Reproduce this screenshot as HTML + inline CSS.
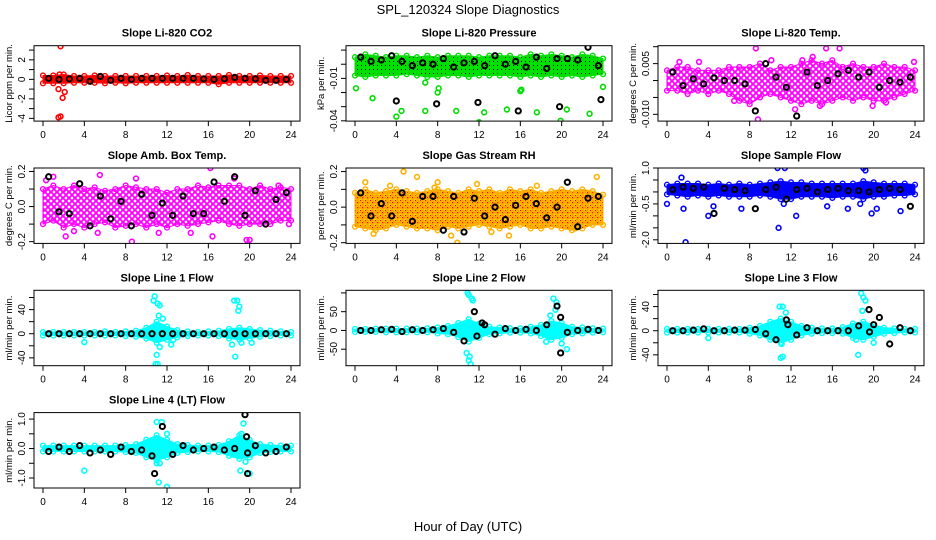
<!DOCTYPE html>
<html><head><meta charset="utf-8"><style>
html,body{margin:0;padding:0;background:#fff;}
svg{display:block;font-family:"Liberation Sans",sans-serif;}
</style></head><body>
<svg id="chart" width="936" height="540" viewBox="0 0 936 540">
<defs>
<pattern id="pat-red" width="4" height="4" patternUnits="userSpaceOnUse"><rect width="4" height="4" fill="#ff0000"/></pattern>
<pattern id="pat-green" width="4" height="4" patternUnits="userSpaceOnUse"><rect width="4" height="4" fill="#00e000"/><rect x="1" y="1" width="1" height="1" fill="#000"/></pattern>
<pattern id="pat-mag" width="6" height="6" patternUnits="userSpaceOnUse"><rect width="6" height="6" fill="#fff"/><circle cx="3" cy="3" r="2.2" fill="none" stroke="#ff00ff" stroke-width="1.5"/><circle cx="0" cy="0" r="2.2" fill="none" stroke="#ff00ff" stroke-width="1.5"/><circle cx="6" cy="0" r="2.2" fill="none" stroke="#ff00ff" stroke-width="1.5"/><circle cx="0" cy="6" r="2.2" fill="none" stroke="#ff00ff" stroke-width="1.5"/><circle cx="6" cy="6" r="2.2" fill="none" stroke="#ff00ff" stroke-width="1.5"/></pattern>
<pattern id="pat-orange" width="5" height="5" patternUnits="userSpaceOnUse"><rect width="5" height="5" fill="#ffd000"/><circle cx="2.5" cy="2.5" r="1.8" fill="none" stroke="#ff9000" stroke-width="1"/><rect x="2" y="2" width="1.2" height="1.2" fill="#ff0000"/><rect x="0" y="0" width="1" height="1" fill="#ff0000"/></pattern>
<pattern id="pat-blue" width="4" height="4" patternUnits="userSpaceOnUse"><rect width="4" height="4" fill="#0000ff"/></pattern>
<pattern id="pat-cyan" width="4" height="4" patternUnits="userSpaceOnUse"><rect width="4" height="4" fill="#00ffff"/></pattern>
</defs>
<text x="468" y="14" text-anchor="middle" font-size="13">SPL_120324  Slope Diagnostics</text>
<text x="468" y="531" text-anchor="middle" font-size="13">Hour of Day (UTC)</text>
</svg>
<script>
// ---- data ----
const hours = [0,1,2,3,4,5,6,7,8,9,10,11,12,13,14,15,16,17,18,19,20,21,22,23,24];
const xTicks = [0,4,8,12,16,20,24];

const co2Lo = [-0.4,-0.4,-0.4,-0.35,-0.35,-0.35,-0.4,-0.35,-0.4,-0.35,-0.35,-0.35,-0.35,-0.35,-0.35,-0.35,-0.35,-0.5,-0.35,-0.35,-0.35,-0.35,-0.35,-0.35,-0.35];
const co2Hi = [0.4,0.4,0.5,0.35,0.35,0.4,0.35,0.35,0.35,0.35,0.35,0.35,0.4,0.35,0.45,0.35,0.35,0.35,0.45,0.35,0.35,0.4,0.35,0.35,0.35];
const co2OutX = [1.7,1.6,1.5,1.9,2.1,1.5,1.7];
const co2OutY = [3.4,0.5,-1.0,-1.9,-1.3,-3.9,-3.8];
const co2Blk = [0.1,0,0.05,0.1,-0.2,0.3,-0.1,0.1,0,0.1,0.1,0.1,0.1,0.1,0.1,0.05,0,0.05,0.2,0.1,0.05,-0.1,-0.1,0];

const prsLo = [-0.008,-0.009,-0.008,-0.008,-0.008,-0.007,-0.008,-0.009,-0.009,-0.008,-0.008,-0.009,-0.008,-0.008,-0.008,-0.008,-0.009,-0.008,-0.009,-0.008,-0.009,-0.008,-0.009,-0.008,-0.007];
const prsHi = [0.005,0.007,0.006,0.005,0.006,0.006,0.005,0.006,0.005,0.006,0.006,0.006,0.005,0.006,0.006,0.006,0.005,0.007,0.006,0.007,0.006,0.005,0.007,0.006,0.004];
const prsOutX = [0.1,1.7,4.0,4.5,6.8,6.8,8.0,8.1,9.8,12.0,12.5,14.7,16.0,16.1,17.6,19.9,20.5,22.7,24.0];
const prsOutY = [-0.017,-0.024,-0.037,-0.033,-0.013,-0.033,-0.02,-0.017,-0.033,-0.041,-0.034,-0.032,-0.019,-0.018,-0.034,-0.04,-0.032,-0.035,-0.016];
const prsBlk = [0.005,0.002,0.003,0.006,0.002,-0.001,0.001,0,0.004,-0.002,0.001,0.002,-0.001,0.006,0,0.002,-0.002,0.005,-0.003,0.004,0.004,0.003,0.012,-0.001];
const prsBlkOX = [4.0,7.9,11.9,15.8,19.8,23.8];
const prsBlkOY = [-0.026,-0.028,-0.027,-0.033,-0.030,-0.025];

const tmpLo = [-0.003,-0.003,-0.004,-0.003,-0.004,-0.003,-0.004,-0.006,-0.007,-0.005,-0.004,-0.005,-0.006,-0.007,-0.006,-0.007,-0.006,-0.005,-0.006,-0.005,-0.006,-0.006,-0.005,-0.004,-0.003];
const tmpHi = [0.003,0.004,0.004,0.003,0.003,0.003,0.004,0.004,0.004,0.005,0.003,0.004,0.004,0.005,0.006,0.005,0.006,0.004,0.005,0.004,0.004,0.005,0.004,0.004,0.003];
const tmpOutX = [1.2,3.1,6.5,8.6,8.8,10.1,12.4,13.1,14.1,14.8,15.4,16.7,19.9,21.2,23.9];
const tmpOutY = [0.0055,0.0055,-0.006,0.0095,-0.0115,0.006,-0.0085,0.006,0.007,-0.0075,0.0095,0.0095,-0.0075,-0.0065,0.0055];
const tmpBlk = [0.0025,-0.0015,0.0005,-0.001,0.0008,0,0,-0.001,-0.009,0.005,0.001,-0.002,-0.0105,0.0025,-0.0015,0,0.002,0.003,0.001,0.0025,-0.002,0,-0.0005,0.001];

const ambLo = [-0.1,-0.08,-0.12,-0.1,-0.12,-0.1,-0.09,-0.12,-0.11,-0.1,-0.12,-0.1,-0.12,-0.1,-0.11,-0.1,-0.09,-0.08,-0.1,-0.11,-0.1,-0.1,-0.1,-0.08,-0.08];
const ambHi = [0.1,0.12,0.1,0.12,0.1,0.11,0.09,0.1,0.12,0.11,0.1,0.1,0.08,0.1,0.1,0.12,0.11,0.12,0.12,0.12,0.1,0.12,0.1,0.11,0.1];
const ambOutX = [0.3,1.0,2.2,3.0,5.3,5.5,8.6,9.0,11.2,14.3,16.2,16.4,18.5,19.7,20.0,22.8,23.8];
const ambOutY = [0.15,0.17,-0.17,-0.14,-0.15,0.18,-0.2,0.16,-0.15,-0.15,0.22,-0.17,0.16,-0.19,-0.19,0.12,-0.1];
const ambBlk = [0.17,-0.03,-0.04,0.13,-0.11,0.06,-0.07,0.03,-0.11,0.07,-0.05,0.02,-0.05,0.06,-0.04,-0.04,0.14,0.03,0.17,-0.05,0.09,-0.1,0.04,0.08];

const rhLo = [-0.11,-0.12,-0.13,-0.12,-0.1,-0.11,-0.12,-0.12,-0.13,-0.11,-0.12,-0.11,-0.1,-0.11,-0.12,-0.11,-0.1,-0.12,-0.12,-0.11,-0.12,-0.13,-0.12,-0.1,-0.1];
const rhHi = [0.08,0.1,0.08,0.09,0.1,0.09,0.08,0.09,0.1,0.09,0.08,0.1,0.09,0.1,0.08,0.1,0.09,0.1,0.08,0.09,0.1,0.09,0.1,0.09,0.07];
const rhOutX = [1.0,1.8,3.4,4.7,6.0,7.7,8.0,9.3,9.9,11.8,13.2,14.9,17.6,21.3,23.4];
const rhOutY = [0.14,-0.15,0.12,0.2,0.17,0.11,0.14,-0.16,-0.2,0.13,-0.14,-0.16,0.12,-0.12,0.17];
const rhBlk = [0.08,-0.05,0.02,-0.05,0.08,-0.08,0.06,0.06,-0.13,0.06,-0.14,0.05,-0.05,0.0,-0.07,0.01,0.06,0.02,-0.06,0.0,0.14,-0.11,0.05,0.06];

const flwLo = [-0.1,-0.15,-0.2,-0.15,-0.2,-0.15,-0.2,-0.2,-0.2,-0.15,-0.2,-0.3,-0.3,-0.2,-0.2,-0.2,-0.25,-0.2,-0.2,-0.3,-0.2,-0.2,-0.15,-0.15,-0.1];
const flwHi = [0.3,0.35,0.35,0.35,0.3,0.35,0.3,0.35,0.3,0.35,0.4,0.45,0.4,0.4,0.35,0.35,0.35,0.35,0.35,0.45,0.4,0.35,0.35,0.35,0.3];
const flwOutX = [0,1.4,1.6,1.8,4.5,4.0,7.2,10.7,10.8,11.4,11.3,12.5,15.5,17.5,18.7,19.0,19.2,19.8,20.3,22.6];
const flwOutY = [-0.5,0.6,-0.7,-2.1,-0.6,-1.0,-0.7,1.0,-1.5,1.0,-0.5,-1.0,-0.6,-0.7,-0.5,1.0,0.9,-0.9,-0.7,-0.8];
const flwBlk = [0.1,0.2,0.15,0.2,-0.9,0.15,0.1,0.05,-0.7,0.1,0.2,-0.3,0.1,0.15,0.0,0.1,0.15,0.05,0.05,0.0,0.1,0.15,0.1,-0.6];

const l1Lo = [-3,-3,-3,-3,-3,-3,-3,-3,-4,-5,-8,-15,-10,-6,-4,-3,-3,-4,-8,-10,-8,-5,-4,-3,-3];
const l1Hi = [3,3,3,3,3,3,4,3,4,5,10,20,12,6,4,3,4,5,8,10,8,6,5,4,3];
const l1OutX = [4.0,10.7,10.8,11.1,11.3,11.2,11.6,11.3,11.0,10.9,11.1,12.4,12.6,18.5,18.8,19.0,18.9,18.3,18.6,19.2,20.2];
const l1OutY = [-14,55,62,50,47,30,25,-22,-35,-50,-50,-18,-10,55,55,45,38,-18,-38,-15,-15];
const l1Blk = [0,0,0,0,0,0,0,0,0,0,0,0,0,0,0,0,0,0,0,0,0,0,0,0];

const l2Lo = [-4,-4,-4,-5,-5,-5,-5,-5,-8,-10,-18,-30,-20,-10,-8,-6,-6,-8,-15,-25,-20,-10,-8,-6,-5];
const l2Hi = [4,4,5,5,5,5,5,6,8,12,20,30,18,10,8,6,6,10,15,25,20,10,8,6,5];
const l2OutX = [10.9,11.0,11.3,11.4,10.8,11.1,11.0,11.2,19.2,19.5,19.4,18.9,18.5,20.0,20.5];
const l2OutY = [100,95,85,80,-60,-70,-80,-90,85,75,55,40,-30,-35,-50];
const l2Blk = [0,0,2,3,-3,2,0,2,5,-5,-28,50,15,-10,5,0,3,0,15,65,-5,0,3,0];
const l2BlkOX = [11.8,19.9,19.9,12.3];
const l2BlkOY = [-15,35,-60,20];

const l3Lo = [-3,-3,-3,-3,-3,-3,-3,-3,-5,-8,-15,-20,-15,-8,-5,-4,-4,-5,-12,-15,-10,-5,-4,-3,-3];
const l3Hi = [3,3,3,3,3,3,3,3,5,8,15,20,15,8,5,4,4,6,12,15,10,5,4,3,3];
const l3OutX = [4.0,10.9,11.2,11.5,11.0,11.2,11.1,18.8,19.0,19.2,18.9,18.5,18.3,20.0];
const l3OutY = [-12,40,40,30,-45,-43,-22,62,55,50,33,-40,-15,-20];
const l3Blk = [0,0,1,3,0,0,1,1,2,-5,-15,18,-7,5,0,0,0,0,8,35,22,-22,5,0];
const l3BlkOX = [11.7,19.6,20.0];
const l3BlkOY = [10,-2,10];

const l4Lo = [-0.1,-0.1,-0.1,-0.1,-0.1,-0.1,-0.1,-0.1,-0.12,-0.15,-0.3,-0.4,-0.3,-0.15,-0.12,-0.1,-0.1,-0.12,-0.25,-0.35,-0.3,-0.15,-0.12,-0.1,-0.1];
const l4Hi = [0.1,0.1,0.1,0.1,0.1,0.1,0.1,0.1,0.12,0.15,0.3,0.45,0.3,0.15,0.12,0.1,0.1,0.12,0.25,0.45,0.3,0.15,0.12,0.1,0.1];
const l4OutX = [4.0,11.0,11.5,12.0,11.0,11.3,11.2,12.0,19.4,19.2,19.1,19.6,20.0];
const l4OutY = [-0.75,0.9,0.9,0.5,-0.5,-0.5,-1.15,-1.3,0.85,0.5,-0.75,-0.45,-0.85];
const l4Blk = [-0.1,0.05,-0.1,0.1,-0.15,-0.05,-0.2,0.05,-0.1,-0.05,-0.25,0.75,-0.2,0.1,-0.05,0.0,0.05,-0.05,0.0,1.15,0.1,-0.15,-0.1,0.05];
const l4BlkOX = [10.8,19.7,19.8,19.8];
const l4BlkOY = [-0.85,0.4,-0.85,-0.15];

// ---- panels ----
const panels = [
 {t:"Slope Li-820 CO2", yl:"Licor ppm per min.", c:0,r:0, d:[-4.28,3.45], ticks:[-4,-3,-2,-1,0,1,2,3], labs:{"-4":"-4","-2":"-2","0":"0","2":"2"}, lo:co2Lo,hi:co2Hi,ox:co2OutX,oy:co2OutY,blk:co2Blk,col:"#ff0000",pat:"pat-red"},
 {t:"Slope Li-820 Pressure", yl:"kPa per min.", c:1,r:0, d:[-0.0402,0.0131], ticks:[-0.04,-0.03,-0.02,-0.01,0,0.01], labs:{"-0.04":"-0.04","-0.01":"-0.01"}, lo:prsLo,hi:prsHi,ox:prsOutX,oy:prsOutY,blk:prsBlk,bx:prsBlkOX,by:prsBlkOY,col:"#00dd00",pat:"pat-green"},
 {t:"Slope Li-820 Temp.", yl:"degrees C per min.", c:2,r:0, d:[-0.012,0.0103], ticks:[-0.01,-0.005,0,0.005,0.01], labs:{"-0.01":"-0.010","0.005":"0.005"}, lo:tmpLo,hi:tmpHi,ox:tmpOutX,oy:tmpOutY,blk:tmpBlk,col:"#ff00ff",pat:"pat-mag"},
 {t:"Slope Amb. Box Temp.", yl:"degrees C per min.", c:0,r:1, d:[-0.21,0.22], ticks:[-0.2,-0.1,0,0.1,0.2], labs:{"-0.2":"-0.2","0":"0.0","0.2":"0.2"}, lo:ambLo,hi:ambHi,ox:ambOutX,oy:ambOutY,blk:ambBlk,col:"#ff00ff",pat:"pat-mag"},
 {t:"Slope Gas Stream RH", yl:"percent per min.", c:1,r:1, d:[-0.204,0.22], ticks:[-0.2,-0.1,0,0.1,0.2], labs:{"-0.2":"-0.2","0":"0.0","0.2":"0.2"}, lo:rhLo,hi:rhHi,ox:rhOutX,oy:rhOutY,blk:rhBlk,col:"#ffb000",pat:"pat-orange"},
 {t:"Slope Sample Flow", yl:"ml/min per min.", c:2,r:1, d:[-2.15,1.0], ticks:[-2,-1.5,-1,-0.5,0,0.5,1], labs:{"-2":"-2.0","-0.5":"-0.5","1":"1.0"}, lo:flwLo,hi:flwHi,ox:flwOutX,oy:flwOutY,blk:flwBlk,col:"#0000ff",pat:"pat-blue"},
 {t:"Slope Line 1 Flow", yl:"ml/min per min.", c:0,r:2, d:[-53,72], ticks:[-40,-20,0,20,40,60], labs:{"-40":"-40","0":"0","40":"40"}, lo:l1Lo,hi:l1Hi,ox:l1OutX,oy:l1OutY,blk:l1Blk,col:"#00ffff",pat:"pat-cyan"},
 {t:"Slope Line 2 Flow", yl:"ml/min per min.", c:1,r:2, d:[-94,107], ticks:[-50,0,50,100], labs:{"-50":"-50","0":"0","50":"50"}, lo:l2Lo,hi:l2Hi,ox:l2OutX,oy:l2OutY,blk:l2Blk,bx:l2BlkOX,by:l2BlkOY,col:"#00ffff",pat:"pat-cyan"},
 {t:"Slope Line 3 Flow", yl:"ml/min per min.", c:2,r:2, d:[-58,67], ticks:[-40,-20,0,20,40,60], labs:{"-40":"-40","0":"0","40":"40"}, lo:l3Lo,hi:l3Hi,ox:l3OutX,oy:l3OutY,blk:l3Blk,bx:l3BlkOX,by:l3BlkOY,col:"#00ffff",pat:"pat-cyan"},
 {t:"Slope Line 4 (LT) Flow", yl:"ml/min per min.", c:0,r:3, d:[-1.34,1.22], ticks:[-1,-0.5,0,0.5,1], labs:{"-1":"-1.0","0":"0.0","1":"1.0"}, lo:l4Lo,hi:l4Hi,ox:l4OutX,oy:l4OutY,blk:l4Blk,bx:l4BlkOX,by:l4BlkOY,col:"#00ffff",pat:"pat-cyan"}
];

const NS = "http://www.w3.org/2000/svg";
const svg = document.getElementById('chart');
function mk(tag, attrs, parent){ const e=document.createElementNS(NS,tag); for(const k in attrs) e.setAttribute(k,attrs[k]); (parent||svg).appendChild(e); return e; }

panels.forEach((p, idx) => {
  const L = 34 + 312*p.c, W = 266, T = 45.7 + 122.3*p.r, H = 75.4;
  const X0 = -0.87, X1 = 24.87;
  const sx = v => L + (v - X0) / (X1 - X0) * W;
  const sy = v => T + H - (v - p.d[0]) / (p.d[1] - p.d[0]) * H;
  const slug = p.t.toLowerCase().replace(/[^a-z0-9]+/g,'-').replace(/^-|-$/g,'');
  const g = mk('g', {});
  
  

  const title = mk('text', {x: L + W/2, y: T - 9, 'text-anchor':'middle', 'font-size':'11', 'font-weight':'bold'}, g);
  title.textContent = p.t;
  
  

  const clipId = 'clip' + idx;
  const cp = mk('clipPath', {id: clipId}, g);
  mk('rect', {x:L, y:T, width:W, height:H}, cp);
  const plot = mk('g', {'clip-path': 'url(#'+clipId+')'}, g);

  let pts = hours.map((h,i)=> sx(h)+','+sy(p.hi[i]));
  pts = pts.concat(hours.slice().reverse().map((h,j)=> sx(h)+','+sy(p.lo[hours.length-1-j])));
  const band = mk('polygon', {points: pts.join(' '), fill: 'url(#'+p.pat+')', stroke: p.col, 'stroke-width': 1, 'stroke-linejoin':'round'}, plot);
  
  
  hours.forEach((h,i) => {
    [p.hi[i], p.lo[i]].forEach(v => {
      const c = mk('circle', {cx: sx(h), cy: sy(v), r: 2.4, fill:'none', stroke:p.col, 'stroke-width':1.4}, plot);
      
      
    });
  });
  p.ox.forEach((x,i) => {
    const c = mk('circle', {cx: sx(x), cy: sy(p.oy[i]), r: 2.4, fill:'none', stroke:p.col, 'stroke-width':1.6}, plot);
    
    
  });
  p.blk.forEach((v,i) => {
    const c = mk('circle', {cx: sx(i + 0.55), cy: sy(v), r: 2.6, fill:'none', stroke:'#000', 'stroke-width':2}, plot);
    
    
  });
  if (p.bx) p.bx.forEach((x,i) => {
    const c = mk('circle', {cx: sx(x), cy: sy(p.by[i]), r: 2.6, fill:'none', stroke:'#000', 'stroke-width':2}, plot);
    
    
  });

  const box = mk('rect', {x:L, y:T, width:W, height:H, fill:'none', stroke:'#000', 'stroke-width':1}, g);
  
  

  xTicks.forEach(t => {
    mk('line', {x1:sx(t), x2:sx(t), y1:T+H, y2:T+H+5, stroke:'#000'}, g);
    const tx = mk('text', {x:sx(t), y:T+H+17, 'text-anchor':'middle', 'font-size':'10'}, g);
    tx.textContent = t;
    
    
  });
  p.ticks.forEach(t => {
    const y = sy(t);
    mk('line', {x1:L-5, x2:L, y1:y, y2:y, stroke:'#000'}, g);
    const lab = p.labs[String(t)];
    if (lab !== undefined) {
      const tx = mk('text', {x:0, y:0, 'text-anchor':'middle', 'font-size':'10', transform:'translate('+(L-9)+','+y+') rotate(-90)'}, g);
      tx.textContent = lab;
      
      
    }
  });
  const yl = mk('text', {x:0, y:0, 'text-anchor':'middle', 'font-size':'9.5', transform:'translate('+(L-22)+','+(T+H/2)+') rotate(-90)'}, g);
  yl.textContent = p.yl;
  
  
});
</script>
</body></html>
